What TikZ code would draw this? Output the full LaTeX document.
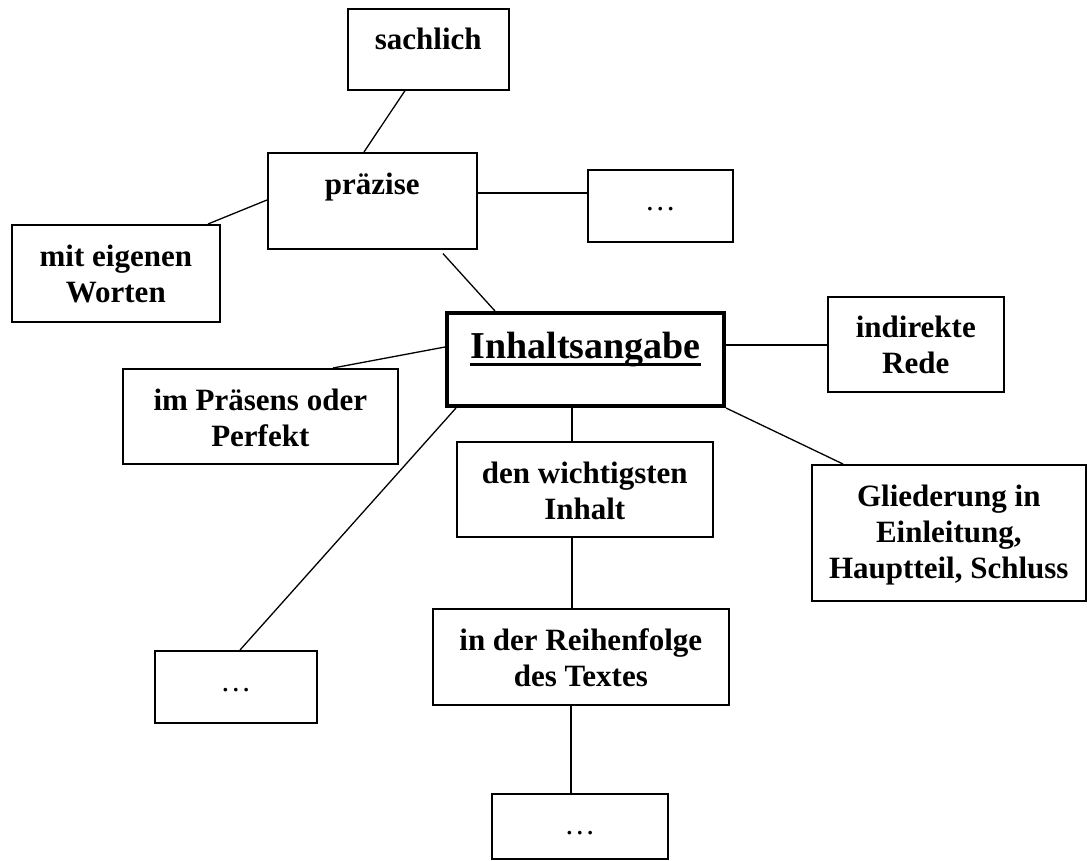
\documentclass[tikz,border=0pt]{standalone}
\usepackage{fontspec}
\setmainfont{Liberation Serif}
\newcommand\bxt[4]{\parbox[t][#2pt][t]{#1pt}{\centering\rule{0pt}{#3pt}#4}}
\newcommand\ulw[1]{\setbox0\hbox{#1}\rlap{\rule[-8pt]{\wd0}{3.5pt}}\box0}
\tikzset{
  bx/.style={draw, line width=1.6pt, inner sep=0pt, anchor=north west,
    font=\fontsize{31}{36}\selectfont\bfseries},
  dotsbx/.style={bx, font=\fontsize{31}{36}\selectfont\mdseries},
  mainbx/.style={bx, line width=4pt, font=\fontsize{38}{44}\selectfont\bfseries},
  conn/.style={line width=1.3pt}
}
\begin{document}
\begin{tikzpicture}[x=1pt,y=-1pt]
\useasboundingbox (0,0) rectangle (1089,861);
\node[bx] (sach) at (347,8) {\bxt{161}{81}{41}{sachlich}};
\node[bx] (praz) at (267,152) {\bxt{209}{96}{42}{präzise}};
\node[dotsbx] (dots1) at (587,169) {\bxt{145}{72}{41}{…}};
\node[bx] (eigen) at (11,224) {\bxt{208}{97}{42}{mit eigenen\\Worten}};
\node[mainbx] (inh) at (445,311) {\bxt{277}{93}{45}{\ulw{Inhaltsangabe}}};
\node[bx] (indir) at (827,296) {\bxt{176}{95}{41}{indirekte\\Rede}};
\node[bx] (praes) at (122,368) {\bxt{275}{95}{42}{im Präsens oder\\Perfekt}};
\node[bx] (wicht) at (456,441) {\bxt{256}{95}{42}{den wichtigsten\\Inhalt}};
\node[bx] (glied) at (811,464) {\bxt{274}{136}{42}{Gliederung in\\Einleitung,\\Hauptteil, Schluss}};
\node[bx] (reih) at (432,608) {\bxt{296}{96}{42}{in der Reihenfolge\\des Textes}};
\node[dotsbx] (dots2) at (154,650) {\bxt{162}{72}{41}{…}};
\node[dotsbx] (dots3) at (491,793) {\bxt{176}{65}{41}{…}};

\draw[conn] ([xshift=58pt]sach.south west) -- ([xshift=97pt]praz.north west);
\draw[conn] ([yshift=-41pt]praz.north east) -- ([yshift=-24pt]dots1.north west);
\draw[conn] ([yshift=-48pt]praz.north west) -- ([xshift=197pt]eigen.north west);
\draw[conn] ([xshift=176pt,yshift=-4pt]praz.south west) -- ([xshift=50pt]inh.north west);
\draw[conn] ([yshift=-36pt]inh.north west) -- ([xshift=211pt]praes.north west);
\draw[conn] ([yshift=-34pt]inh.north east) -- ([yshift=-49pt]indir.north west);
\draw[conn] (inh.south east) -- ([xshift=32pt]glied.north west);
\draw[conn] ([xshift=127pt]inh.south west) -- ([xshift=116pt]wicht.north west);
\draw[conn] ([xshift=11pt]inh.south west) -- ([xshift=86pt]dots2.north west);
\draw[conn] ([xshift=116pt]wicht.south west) -- ([xshift=140pt]reih.north west);
\draw[conn] ([xshift=139pt]reih.south west) -- ([xshift=80pt]dots3.north west);
\end{tikzpicture}
\end{document}
